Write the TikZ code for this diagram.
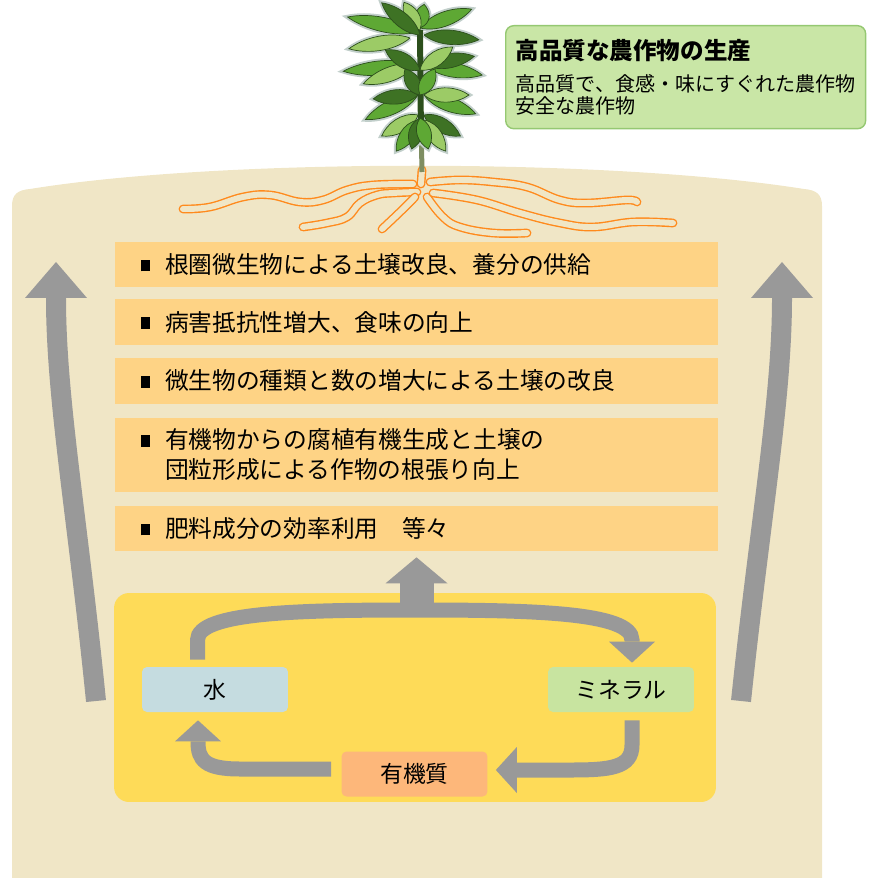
\documentclass[tikz,border=0pt]{standalone}
\usepackage{fontspec}
\usetikzlibrary{calc}
\usetikzlibrary{arrows.meta}

\newfontfamily\jp{Noto Sans CJK JP}

\definecolor{soil}{HTML}{F0E6C6}
\definecolor{barfill}{HTML}{FED385}
\definecolor{poolfill}{HTML}{FEDB58}
\definecolor{waterfill}{HTML}{C5DCE0}
\definecolor{mineralfill}{HTML}{C8E4A0}
\definecolor{organicfill}{HTML}{FDB77A}
\definecolor{goalfill}{HTML}{C9E6A6}
\definecolor{goalline}{HTML}{95C872}
\definecolor{flowgray}{HTML}{999999}
\definecolor{rootline}{HTML}{FF8A1C}
\definecolor{stemgreen}{HTML}{7E8E62}
\definecolor{leafdark}{HTML}{3E7224}
\definecolor{leafmid}{HTML}{5EA834}
\definecolor{leaflight}{HTML}{9CCB66}
\definecolor{leafedge}{HTML}{2C4F1C}
\definecolor{halo}{HTML}{C2CFCB}

\tikzset{
  bar/.style={fill=barfill, minimum width=12.06cm, text width=11.02cm, inner xsep=0.52cm, inner ysep=0pt, align=left, font=\jp\fontsize{13.5pt}{17pt}\selectfont},
  pool/.style={fill=poolfill, rounded corners=0.3cm, minimum width=12.04cm, minimum height=4.18cm},
  cell/.style={rounded corners=0.1cm, minimum width=2.92cm, minimum height=0.9cm, inner sep=0pt, font=\jp\fontsize{13pt}{15pt}\selectfont},
  goal/.style={fill=goalfill, draw=goalline, line width=0.8pt, rounded corners=0.16cm, minimum width=7.2cm, minimum height=2.06cm, inner xsep=0.2cm, align=left, font=\jp\fontsize{11.4pt}{12.5pt}\selectfont},
  flow/.style={draw=flowgray, line width=0.3cm, -{Triangle[width=0.92cm,length=0.42cm,line width=0pt]}},
  upflow/.style={draw=flowgray, line width=0.68cm, -{Triangle[width=1.24cm,length=0.52cm,line width=0pt]}},
  rise/.style={draw=flowgray, line width=0.4cm, -{Triangle[width=1.24cm,length=0.72cm,line width=0pt]}},
  root/.style={draw=rootline, double=soil, line width=0.8pt, double distance=3.4pt, line cap=round, line join=round},
  stem/.style={draw=stemgreen, line width=0.1cm},
}
\newcommand{\blt}{\makebox[0.48cm][l]{\rule[1.2pt]{5pt}{6.6pt}}}
\newcommand{\leaf}[1]{(0,0) .. controls (0.3*#1,11) and (0.75*#1,8) .. (#1,0) .. controls (0.75*#1,-8) and (0.3*#1,-11) .. (0,0)}
\newcommand{\leaves}{418/32/168/72/leafmid, 410/38/190/62/leaflight, 420/28/20/55/leafmid,
    424/35/-5/55/leafdark, 420/28/80/24/leafmid, 420/30/120/32/leaflight, 420/35/140/50/leafdark,
    415/65/185/72/leafmid, 415/65/200/55/leaflight, 425/65/-10/58/leafmid, 425/65/10/50/leafdark,
    420/70/150/40/leafdark, 420/70/35/40/leaflight, 418/95/205/58/leafmid, 418/95/185/45/leafdark,
    424/95/-20/55/leafmid, 424/95/0/45/leaflight, 420/95/120/30/leafdark, 420/95/60/30/leafmid,
    418/115/210/42/leaflight, 424/115/-30/42/leafdark, 418/120/235/38/leafmid, 424/120/-55/38/leaflight,
    420/118/255/32/leafdark, 420/118/-75/32/leafmid}

\begin{document}
\begin{tikzpicture}[x=0.02cm, y=-0.02cm]
\useasboundingbox (0,0) rectangle (871,878);

% soil
\fill[soil] (12,878) -- (12,206) .. controls (12,194) and (18,190) .. (30,189)
  .. controls (220,158) and (610,158) .. (804,189)
  .. controls (816,190) and (822,194) .. (822,206) -- (822,878) -- cycle;

% roots
\draw[root] plot[smooth, tension=0.7] coordinates {(422,170) (421,184)};
\draw[root] plot[smooth, tension=0.7] coordinates {(413,184) (373,185) (347,190) (323,200) (300,202) (270,195) (243,197) (210,207) (183,209)};
\draw[root] plot[smooth, tension=0.7] coordinates {(417,192) (393,193) (377,195) (360,203) (347,217) (327,223) (303,227)};
\draw[root] plot[smooth, tension=0.7] coordinates {(415,197) (400,212) (382,229)};
\draw[root] plot[smooth, tension=0.7] coordinates {(427,197) (443,217) (460,227) (493,233) (527,233)};
\draw[root] plot[smooth, tension=0.7] coordinates {(430,182) (460,180) (493,182) (527,187) (560,200) (587,203) (627,200) (637,202)};
\draw[root] plot[smooth, tension=0.7] coordinates {(433,193) (477,200) (520,213) (560,223) (593,227) (633,222) (673,223)};

% plant
\draw[stem] (422,172) -- (421,120);
\foreach \x/\y/\a/\l/\c in \leaves
  \draw[halo, line width=0.09cm, shift={(\x,\y)}, rotate=\a] \leaf{\l};
\draw[leafedge, line width=0.12cm] (421,140) -- (420,30);
\foreach \x/\y/\a/\l/\c in \leaves
  \filldraw[fill=\c, draw=leafedge, line width=0.4pt, shift={(\x,\y)}, rotate=\a] \leaf{\l};

% effects
\node[bar, minimum height=0.9cm]  (b1) at (416.5,264.5) {\blt 根圏微生物による土壌改良、養分の供給};
\node[bar, minimum height=0.92cm] (b2) at (416.5,322) {\blt 病害抵抗性増大、食味の向上};
\node[bar, minimum height=0.92cm] (b3) at (416.5,381) {\blt 微生物の種類と数の増大による土壌の改良};
\node[bar, minimum height=1.48cm] (b4) at (416.5,455) {\blt 有機物からの腐植有機生成と土壌の\\\hspace*{0.48cm}団粒形成による作物の根張り向上};
\node[bar, minimum height=0.9cm]  (b5) at (416.5,528.5) {\blt 肥料成分の効率利用　等々};

% cycle
\node[pool] (pool) at (415,697.5) {};
\node[cell, fill=waterfill]   (water)   at (215,689.5) {水};
\node[cell, fill=mineralfill] (mineral) at (621,689.5) {ミネラル};
\node[cell, fill=organicfill] (organic) at (414.5,774) {有機質};

\draw[upflow] (416.5,614) -- ($(b5.south)+(0,6)$);
\draw[flow] ($(water.north)+(-17.5,-7)$) -- (197.5,640) .. controls (197.5,612) and (300,610) .. (415,610)
  .. controls (530,610) and (632,612) .. (632,640) -- ($(mineral.north)+(11,-4)$);
\draw[flow] ($(mineral.south)+(11,8)$) -- (632,745) .. controls (632,768) and (610,770) .. (570,770)
  -- ($(organic.east)+(8,-4)$);
\draw[flow] ($(organic.west)+(-10,-5)$) -- (240,769) .. controls (205,769) and (198,760) .. (198,742)
  -- ($(water.south)+(-17,8)$);

% side arrows
\coordinate (lfoot) at (96,701);
\coordinate (ltop) at (56,262);
\coordinate (rfoot) at (741,701);
\coordinate (rtop) at (782,262);
\draw[rise] (lfoot) .. controls (78,520) and (56,400) .. (ltop);
\draw[rise] (rfoot) .. controls (760,520) and (782,400) .. (rtop);

% goal
\node[goal, anchor=north west] (goal) at (505,25)
  {{\bfseries\fontsize{13.4pt}{12.5pt}\selectfont 高品質な農作物の生産}\\[6pt]高品質で、食感・味にすぐれた農作物\\安全な農作物};
\end{tikzpicture}
\end{document}
